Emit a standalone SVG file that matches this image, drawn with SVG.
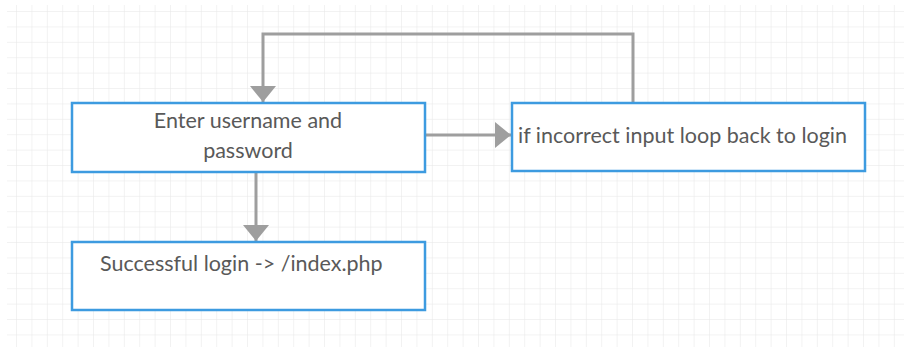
<svg xmlns="http://www.w3.org/2000/svg" width="904" height="350" viewBox="0 0 904 350">
  <defs>
    <pattern id="grid" x="1.6" y="-3.4" width="15.4" height="15.4" patternUnits="userSpaceOnUse">
      <path d="M15.4 0V15.4M0 15.4H15.4" fill="none" stroke="#e6e6e6" stroke-width="1"/>
    </pattern>
    <marker id="arrow" viewBox="0 0 16 26" refX="16" refY="13" markerWidth="16" markerHeight="26" markerUnits="userSpaceOnUse" orient="auto">
      <path d="M0 0L16 13L0 26Z" fill="#9e9e9e"/>
    </marker>
    <style>
      .node rect { fill: #ffffff; stroke: #3d9be0; stroke-width: 2.5; }
      .node text { font-family: Lato, "Liberation Sans", sans-serif; font-size: 21.5px; fill: #595959; }
      .conn path { fill: none; stroke: #9e9e9e; stroke-width: 3; }
    </style>
  </defs>
  <rect width="904" height="350" fill="#ffffff"/>
  <rect x="7" y="5" width="897" height="342" fill="url(#grid)"/>

  <g id="connectors" class="conn">
    <path d="M425 135H511" marker-end="url(#arrow)"/>
    <path d="M633 103V34H263V102" marker-end="url(#arrow)"/>
    <path d="M256 172V241" marker-end="url(#arrow)"/>
  </g>

  <g id="login" class="node">
    <rect x="72" y="103" width="353" height="69"/>
    <text x="248" y="128" text-anchor="middle">Enter username and</text>
    <text x="248" y="158" text-anchor="middle">password</text>
  </g>
  <g id="incorrect" class="node">
    <rect x="512" y="103" width="353" height="68"/>
    <text x="518" y="143">if incorrect input loop back to login</text>
  </g>
  <g id="success" class="node">
    <rect x="72" y="242" width="353" height="68"/>
    <text x="100" y="271">Successful login -&gt; /index.php</text>
  </g>
</svg>
